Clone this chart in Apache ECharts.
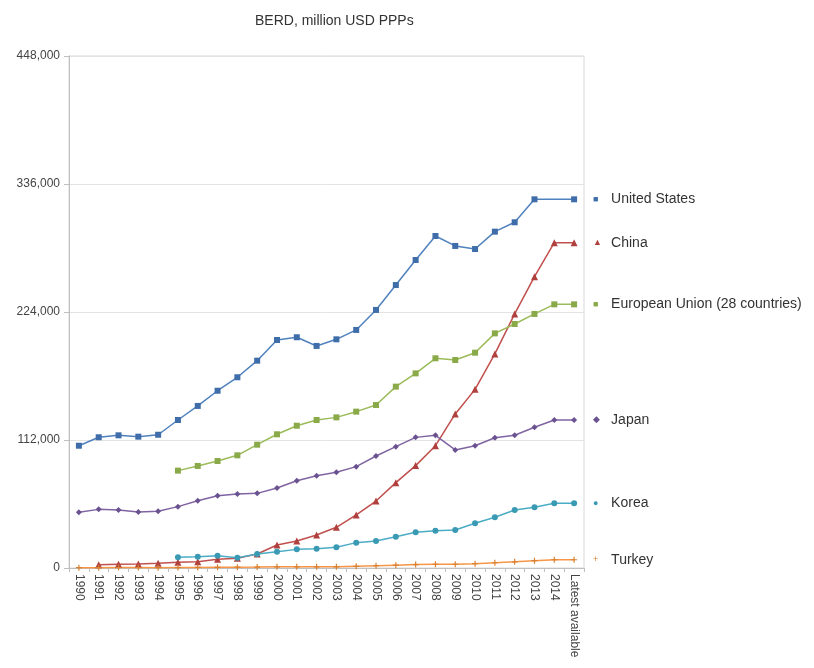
<!DOCTYPE html>
<html>
<head>
<meta charset="utf-8">
<script src="https://cdn.jsdelivr.net/npm/echarts@6/dist/echarts.min.js"></script>
<style>html,body{margin:0;padding:0;background:#fff}#c{width:814px;height:668px}</style>
</head>
<body>
<div id="c"></div>
<script>
const categories = ['1990','1991','1992','1993','1994','1995','1996','1997','1998','1999','2000','2001','2002','2003','2004','2005','2006','2007','2008','2009','2010','2011','2012','2013','2014','Latest available'];
const yTicks = [0, 112000, 224000, 336000, 448000];
const unitedStates = [107000,114400,116100,114900,116600,129500,141800,155100,166900,181400,199500,201900,194300,200100,208300,225800,247600,269500,290500,281800,279100,294300,302500,322600,null,322600];
const china = [null,2900,3200,3500,4100,5000,5500,7600,8500,12300,20100,23600,28900,35600,46400,58600,74700,89600,107000,134800,156300,187300,222300,254900,284600,284600];
const europeanUnion = [null,null,null,null,null,85200,89300,93600,98600,107900,117000,124500,129500,131800,136800,142600,158700,170300,183500,182000,188400,205300,213500,222300,230700,230700];
const japan = [48700,51300,50800,49000,49600,53700,58900,63300,64800,65300,70000,76400,80800,83700,88700,98000,106200,114300,116100,103300,107000,114000,116100,123100,129500,129500];
const korea = [null,null,null,null,null,9300,9900,10800,9000,12300,14300,16300,16900,18100,22200,23600,27400,31200,32700,33300,39100,44400,50800,53100,56600,56600];
const turkey = [300,300,400,400,300,400,500,600,700,800,1000,1000,1000,1000,1500,2000,2500,3000,3300,3300,3800,4600,5400,6400,7200,7200];

const seriesDefs = [
  {name:'United States', data:unitedStates, color:'#4F81BD', mark:'#3F6DAA', symbol:'rect', glyph:'■'},
  {name:'China', data:china, color:'#C0504D', mark:'#B0403D', symbol:'triangle', glyph:'▲'},
  {name:'European Union (28 countries)', data:europeanUnion, color:'#9BBB59', mark:'#8AAA4A', symbol:'rect', glyph:'■'},
  {name:'Japan', data:japan, color:'#8064A2', mark:'#6A5290', symbol:'diamond', glyph:'◆'},
  {name:'Korea', data:korea, color:'#4BACC6', mark:'#3A9AB4', symbol:'circle', glyph:'●'},
  {name:'Turkey', data:turkey, color:'#F79646', mark:'#D98030', symbol:'path://M4,0h2v4h4v2h-4v4h-2v-4h-4v-2h4z', glyph:'+'}
];

const chart = echarts.init(document.getElementById('c'), null, {renderer:'canvas'});
chart.setOption({
  animation:false,
  backgroundColor:'#fff',
  title:{text:'BERD, million USD PPPs', left:250, top:9,
    textStyle:{fontFamily:'Liberation Sans, Arial, sans-serif', fontSize:14, fontWeight:'normal', color:'#333'}},
  grid:{left:69, right:230, top:56, bottom:100, show:true, borderColor:'#d9d9d9', borderWidth:1, containLabel:false},
  xAxis:{type:'category', data:categories, boundaryGap:true,
    axisLine:{lineStyle:{color:'#bfbfbf'}},
    axisTick:{show:true, length:4, lineStyle:{color:'#bfbfbf'}},
    axisLabel:{rotate:-90, interval:0, margin:6, color:'#444', fontSize:12, fontFamily:'Liberation Sans, Arial, sans-serif'}},
  yAxis:{type:'value', min:yTicks[0], max:yTicks[yTicks.length-1], interval:yTicks[1]-yTicks[0],
    axisLine:{show:true, lineStyle:{color:'#bfbfbf'}},
    axisTick:{show:true, length:5, lineStyle:{color:'#bfbfbf'}},
    splitLine:{lineStyle:{color:'#e3e3e3'}},
    axisLabel:{color:'#444', fontSize:12, margin:9, fontFamily:'Liberation Sans, Arial, sans-serif',
      formatter:v=>v.toLocaleString('en-US')}},
  series: seriesDefs.map(s=>({
    name:s.name, type:'line', data:s.data, connectNulls:true,
    symbol:s.symbol, symbolSize: s.symbol==='triangle'?7:6, showSymbol:true, showAllSymbol:true,
    lineStyle:{color:s.color, width:1.5},
    itemStyle:{color:s.mark},
    endLabel:{show:true, distance:19,
      formatter:()=>'{m|'+s.glyph+'}{t|'+s.name+'}',
      rich:{m:{color:s.mark, fontSize:9, width:18},
            t:{color:'#333', fontSize:14, fontFamily:'Liberation Sans, Arial, sans-serif'}}}
  }))
});
</script>
</body>
</html>
